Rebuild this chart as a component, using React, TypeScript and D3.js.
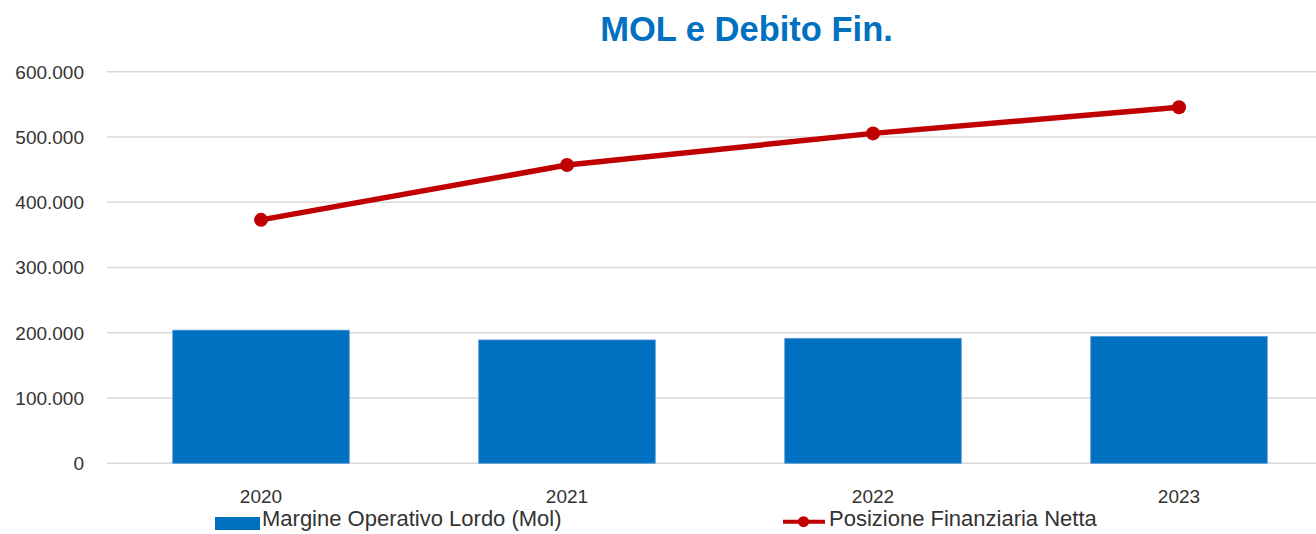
import React from 'react';
import * as d3 from 'd3';

const years = ['2020', '2021', '2022', '2023'];
const molValues = [204000, 189000, 191500, 194500];
const pfnValues = [373000, 457000, 505500, 545500];
const yTicks = [0, 100000, 200000, 300000, 400000, 500000, 600000];
const title = 'MOL e Debito Fin.';
const barLabel = 'Margine Operativo Lordo (Mol)';
const lineLabel = 'Posizione Finanziaria Netta';

const W = 1316;
const H = 534;
const FONT = '"Liberation Sans", Arial, sans-serif';

const itFormat = d3.formatLocale({ decimal: ',', thousands: '.', grouping: [3], currency: ['€', ''] }).format(',');

export default function App() {
  const x = d3.scaleBand<string>().domain(years).range([108, 1332]).paddingInner(0.423).paddingOuter(0.2115);
  const y = d3.scaleLinear().domain([0, 600000]).range([463.3, 71.7]);
  const line = d3
    .line<number>()
    .x((_, i) => (x(years[i]) as number) + x.bandwidth() / 2)
    .y((d) => y(d));

  return (
    <svg width={W} height={H} style={{ position: 'fixed', left: 0, top: 0, display: 'block', background: '#fff' }}>
      <text x={746.5} y={41} textAnchor="middle" fontFamily={FONT} fontWeight="bold" fontSize={34.5} fill="#0070C0">
        {title}
      </text>
      {yTicks.map((t) => (
        <g key={t}>
          <line x1={107} x2={W} y1={y(t)} y2={y(t)} stroke="#d9d9d9" strokeWidth={1.4} />
          <text x={84} y={y(t)} dy="0.36em" textAnchor="end" fontFamily={FONT} fontSize={19} fill="#333">
            {itFormat(t)}
          </text>
        </g>
      ))}
      {years.map((yr, i) => (
        <rect
          key={yr}
          x={x(yr)}
          y={y(molValues[i])}
          width={x.bandwidth()}
          height={y(0) - y(molValues[i])}
          fill="#0070C0"
          stroke="#5b9bd5"
          strokeWidth={0.8}
        />
      ))}
      <path d={line(pfnValues) || ''} fill="none" stroke="#C00000" strokeWidth={5.5} strokeLinejoin="round" />
      {years.map((yr, i) => (
        <circle key={yr} cx={(x(yr) as number) + x.bandwidth() / 2} cy={y(pfnValues[i])} r={7} fill="#C00000" />
      ))}
      {years.map((yr) => (
        <text
          key={yr}
          x={(x(yr) as number) + x.bandwidth() / 2}
          y={502.5}
          textAnchor="middle"
          fontFamily={FONT}
          fontSize={19}
          fill="#333"
        >
          {yr}
        </text>
      ))}
      <rect x={215} y={517} width={45} height={13} fill="#0070C0" />
      <text x={262} y={526} fontFamily={FONT} fontSize={22} fill="#333">
        {barLabel}
      </text>
      <line x1={783} x2={825} y1={521.7} y2={521.7} stroke="#C00000" strokeWidth={4} />
      <circle cx={803.5} cy={521.7} r={5.5} fill="#C00000" />
      <text x={829} y={526} fontFamily={FONT} fontSize={22} fill="#333">
        {lineLabel}
      </text>
    </svg>
  );
}
